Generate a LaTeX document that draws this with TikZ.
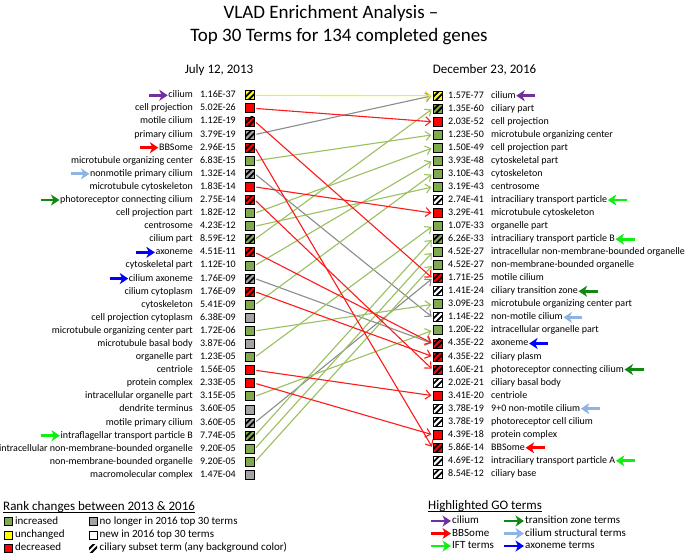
\documentclass[tikz,border=0pt]{standalone}
\usepackage{fontspec}
\setmainfont{Carlito}
\usetikzlibrary{arrows.meta}
\definecolor{sqg}{HTML}{7FAB4E}
\definecolor{sqgr}{HTML}{A3A3A3}
\definecolor{yel}{HTML}{FFFF00}
\definecolor{rd}{HTML}{FF0000}
\definecolor{cg}{HTML}{9BC060}
\definecolor{cgr}{HTML}{8C8C8C}
\definecolor{cy}{HTML}{F5F500}
\definecolor{cr}{HTML}{FF1A1A}
\definecolor{hpur}{HTML}{7030A0}
\definecolor{hred}{HTML}{FF0000}
\definecolor{hbg}{HTML}{11EE11}
\definecolor{hdg}{HTML}{118811}
\definecolor{hlb}{HTML}{8DB4E2}
\definecolor{hbl}{HTML}{0000FF}
\tikzset{
  rowtext/.style={inner sep=0pt, text height=7pt, text depth=2pt, font=\fontsize{10}{12}\selectfont},
  sq/.style={draw=black, line width=0.9pt, minimum size=9pt, inner sep=0pt, fill=#1},
  lsq/.style={draw=black, line width=0.8pt, minimum size=8pt, inner sep=0pt, fill=#1},
  hatch/.style={path picture={
    \draw[black,line width=1.8pt]
      ([xshift=-2pt,yshift=1pt]path picture bounding box.south west) -- ([xshift=-1pt,yshift=2pt]path picture bounding box.north east)
      ([xshift=1pt,yshift=-2pt]path picture bounding box.south west) -- ([xshift=2pt,yshift=-1pt]path picture bounding box.north east);
  }},
  conn/.style={draw=#1, line width=1.1pt, -{Straight Barb[length=5pt,width=9pt]}, shorten <=1.5pt, shorten >=1.2pt},
  hl/.style={draw=#1, line width=2.9pt, -{Stealth[length=8.5pt,width=11pt,inset=2.5pt]}},
  ltext/.style={inner sep=0pt, anchor=west, text height=7.5pt, text depth=2pt, font=\fontsize{11}{13}\selectfont},
  ltitle/.style={inner sep=0pt, anchor=west, text height=9pt, text depth=2.5pt, font=\fontsize{13}{15}\selectfont}
}
\begin{document}
\begin{tikzpicture}[x=1pt,y=-1pt]
\useasboundingbox[fill=white] (0,0) rectangle (685,555);
% titles
\node[font=\fontsize{19}{22}\selectfont] (t1) at (331,13) {VLAD Enrichment Analysis –};
\node[font=\fontsize{19}{22}\selectfont] (t2) at (339,37) {Top 30 Terms for 134 completed genes};
\node[font=\fontsize{13}{15}\selectfont] (h1) at (219,70) {July 12, 2013};
\node[font=\fontsize{13}{15}\selectfont] (h2) at (484.5,70) {December 23, 2016};
% left column (2013)
\foreach \i/\lab/\num/\col/\hh in {
 1/cilium/1.16E-37/yel/1,
 2/cell projection/5.02E-26/rd/0,
 3/motile cilium/1.12E-19/rd/1,
 4/primary cilium/3.79E-19/sqgr/1,
 5/BBSome/2.96E-15/rd/1,
 6/microtubule organizing center/6.83E-15/sqg/0,
 7/nonmotile primary cilium/1.32E-14/sqgr/1,
 8/microtubule cytoskeleton/1.83E-14/rd/0,
 9/photoreceptor connecting cilium/2.75E-14/rd/1,
 10/cell projection part/1.82E-12/sqg/0,
 11/centrosome/4.23E-12/sqg/0,
 12/cilium part/8.59E-12/sqg/1,
 13/axoneme/4.51E-11/rd/1,
 14/cytoskeletal part/1.12E-10/sqg/0,
 15/cilium axoneme/1.76E-09/sqgr/1,
 16/cilium cytoplasm/1.76E-09/rd/1,
 17/cytoskeleton/5.41E-09/sqg/0,
 18/cell projection cytoplasm/6.38E-09/sqgr/0,
 19/microtubule organizing center part/1.72E-06/sqg/0,
 20/microtubule basal body/3.87E-06/sqgr/0,
 21/organelle part/1.23E-05/sqg/0,
 22/centriole/1.56E-05/rd/0,
 23/protein complex/2.33E-05/rd/0,
 24/intracellular organelle part/3.15E-05/sqg/0,
 25/dendrite terminus/3.60E-05/sqgr/0,
 26/motile primary cilium/3.60E-05/sqgr/1,
 27/intraflagellar transport particle B/7.74E-05/sqg/1,
 28/intracellular non-membrane-bounded organelle/9.20E-05/sqg/0,
 29/non-membrane-bounded organelle/9.20E-05/sqg/0,
 30/macromolecular complex/1.47E-04/sqgr/0} {
  \pgfmathsetmacro\yy{95.3+(\i-1)*13.09}
  \node[rowtext,anchor=east] (Ll\i) at (193,\yy) {\lab};
  \node[rowtext,anchor=east] (Ln\i) at (236,\yy) {\num};
  \ifnum\hh=1
    \node[sq=\col,hatch] (L\i) at (250,\yy) {};
  \else
    \node[sq=\col] (L\i) at (250,\yy) {};
  \fi
}
% right column (2016)
\foreach \i/\lab/\num/\col/\hh in {
 1/cilium/1.57E-77/yel/1,
 2/ciliary part/1.35E-60/sqg/1,
 3/cell projection/2.03E-52/rd/0,
 4/microtubule organizing center/1.23E-50/sqg/0,
 5/cell projection part/1.50E-49/sqg/0,
 6/cytoskeletal part/3.93E-48/sqg/0,
 7/cytoskeleton/3.10E-43/sqg/0,
 8/centrosome/3.19E-43/sqg/0,
 9/intraciliary transport particle/2.74E-41/white/1,
 10/microtubule cytoskeleton/3.29E-41/rd/0,
 11/organelle part/1.07E-33/sqg/0,
 12/intraciliary transport particle B/6.26E-33/sqg/1,
 13/intracellular non-membrane-bounded organelle/4.52E-27/sqg/0,
 14/non-membrane-bounded organelle/4.52E-27/sqg/0,
 15/motile cilium/1.71E-25/rd/1,
 16/ciliary transition zone/1.41E-24/white/1,
 17/microtubule organizing center part/3.09E-23/sqg/0,
 18/non-motile cilium/1.14E-22/white/1,
 19/intracellular organelle part/1.20E-22/sqg/0,
 20/axoneme/4.35E-22/rd/1,
 21/ciliary plasm/4.35E-22/rd/1,
 22/photoreceptor connecting cilium/1.60E-21/rd/1,
 23/ciliary basal body/2.02E-21/white/1,
 24/centriole/3.41E-20/rd/0,
 25/9+0 non-motile cilium/3.78E-19/white/1,
 26/photoreceptor cell cilium/3.78E-19/white/1,
 27/protein complex/4.39E-18/rd/0,
 28/BBSome/5.86E-14/rd/1,
 29/intraciliary transport particle A/4.69E-12/white/1,
 30/ciliary base/8.54E-12/white/1} {
  \pgfmathsetmacro\yy{95.7+(\i-1)*13.04}
  \ifnum\hh=1
    \node[sq=\col,hatch] (R\i) at (437.5,\yy) {};
  \else
    \node[sq=\col] (R\i) at (437.5,\yy) {};
  \fi
  \node[rowtext,anchor=west] (Rn\i) at (448,\yy) {\num};
  \node[rowtext,anchor=west] (Rl\i) at (491,\yy) {\lab};
}
% connectors
\foreach \a/\b/\c in {
 4/1/cgr, 7/18/cgr, 15/20/cgr, 26/15/cgr,
 6/4/cg, 10/5/cg, 11/8/cg, 12/2/cg, 14/6/cg, 17/7/cg, 19/17/cg, 21/11/cg, 24/19/cg, 27/12/cg, 28/13/cg, 29/14/cg,
 2/3/cr, 3/15/cr, 5/28/cr, 8/10/cr, 9/22/cr, 13/20/cr, 16/21/cr, 22/24/cr, 23/27/cr,
 1/1/cy}
  \draw[conn=\c] (L\a.east) -- (R\b.west);
% highlight arrows, left
\foreach \i/\c in {1/hpur, 5/hred, 7/hlb, 9/hdg, 13/hbl, 15/hbl, 27/hbg}
  \draw[hl=\c] ([xshift=-19pt]Ll\i.west) -- ([xshift=-0.5pt]Ll\i.west);
% highlight arrows, right
\foreach \i/\c in {1/hpur, 9/hbg, 12/hbg, 16/hdg, 18/hlb, 20/hbl, 22/hdg, 25/hlb, 28/hred, 29/hbg}
  \draw[hl=\c] ([xshift=19.5pt]Rl\i.east) -- ([xshift=0.5pt]Rl\i.east);
% legend: rank changes
\node[ltitle] (lg1) at (3,507) {Rank changes between 2013 \& 2016};
\draw[line width=0.6pt] ([yshift=0.5pt]lg1.south west) -- ([yshift=0.5pt]lg1.south east);
\node[lsq=sqg] (k1) at (8.3,521.5) {};
\node[ltext] (k1t) at (15,521.5) {increased};
\node[lsq=yel] (k2) at (8.3,535) {};
\node[ltext] (k2t) at (15,535) {unchanged};
\node[lsq=rd] (k3) at (8.3,548) {};
\node[ltext] (k3t) at (15,548) {decreased};
\node[lsq=sqgr] (k4) at (93,521.5) {};
\node[ltext] (k4t) at (99.5,521.5) {no longer in 2016 top 30 terms};
\node[lsq=white] (k5) at (93,535) {};
\node[ltext] (k5t) at (99.5,535) {new in 2016 top 30 terms};
\node[minimum size=8pt, inner sep=0pt, hatch] (k6) at (93,548) {};
\node[ltext] (k6t) at (99.5,548) {ciliary subset term (any background color)};
% legend: highlighted GO terms
\node[ltitle] (lg2) at (428,506) {Highlighted GO terms};
\draw[line width=0.6pt] ([yshift=0.5pt]lg2.south west) -- ([yshift=0.5pt]lg2.south east);
\node[ltext] (g1) at (452,521) {cilium};
\node[ltext] (g2) at (452,533.5) {BBSome};
\node[ltext] (g3) at (452,546) {IFT terms};
\node[ltext] (g4) at (525,521) {transition zone terms};
\node[ltext] (g5) at (525,533.5) {cilium structural terms};
\node[ltext] (g6) at (525,546) {axoneme terms};
\foreach \n/\c in {g1/hpur, g2/hred, g3/hbg, g4/hdg, g5/hlb, g6/hbl}
  \draw[hl=\c] ([xshift=-21pt]\n.west) -- ([xshift=-1pt]\n.west);
\end{tikzpicture}
\end{document}
